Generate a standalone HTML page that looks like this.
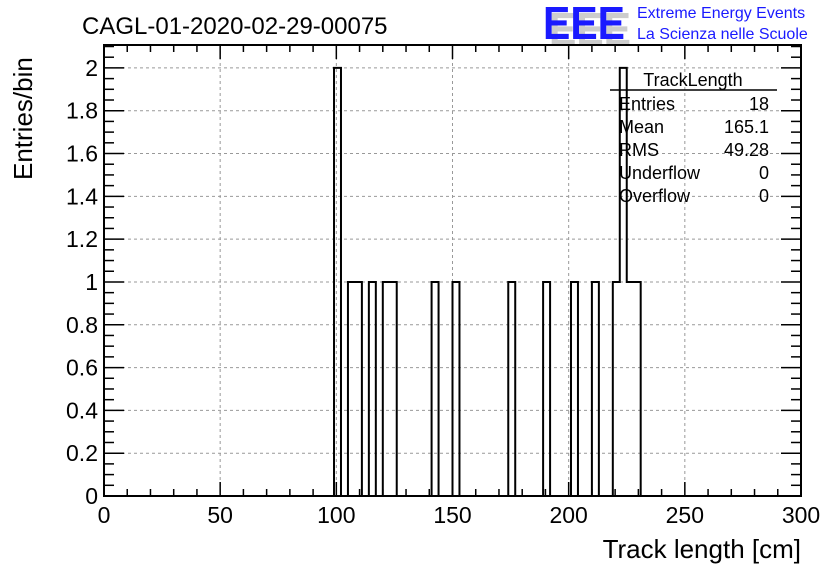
<!DOCTYPE html>
<html><head><meta charset="utf-8"><style>body{margin:0;background:#fff}svg{display:block;font-family:"Liberation Sans",sans-serif}</style></head>
<body>
<svg id="c" width="836" height="572" xmlns="http://www.w3.org/2000/svg">
<rect width="836" height="572" fill="#fff"/>
<text x="82" y="34" font-size="24">CAGL-01-2020-02-29-00075</text>
<g>
<text x="547" y="43" font-size="46" fill="#ccc" font-weight="bold" transform="translate(2,2)" textLength="82" lengthAdjust="spacingAndGlyphs">EEE</text>
<text x="543" y="39" font-size="46" fill="#1a1aff" font-weight="bold" textLength="82" lengthAdjust="spacingAndGlyphs">EEE</text>
<text x="637" y="18" font-size="16" fill="#1a1aff">Extreme Energy Events</text>
<text x="637" y="39" font-size="16" fill="#1a1aff">La Scienza nelle Scuole</text>
</g>
<g id="grid"></g>
<g id="bars"></g>
<g id="axes"></g>
<g font-size="18">
<text x="693" y="86" text-anchor="middle">TrackLength</text>
<line x1="610" y1="90" x2="777" y2="90" stroke="#000" stroke-width="1.5"/>
<text x="619" y="110">Entries</text><text x="769" y="110" text-anchor="end">18</text>
<text x="619" y="133">Mean</text><text x="769" y="133" text-anchor="end">165.1</text>
<text x="619" y="156">RMS</text><text x="769" y="156" text-anchor="end">49.28</text>
<text x="619" y="179">Underflow</text><text x="769" y="179" text-anchor="end">0</text>
<text x="619" y="202">Overflow</text><text x="769" y="202" text-anchor="end">0</text>
</g>
<text x="801" y="558" font-size="26" text-anchor="end">Track length [cm]</text>
<text transform="translate(32,180) rotate(-90)" font-size="26">Entries/bin</text>
</svg>
<script>
const binStarts=[99,105,108,114,120,123,141,150,174,189,201,210,219,222,225,228];
const binCounts=[2,1,1,1,1,1,1,1,1,1,1,1,1,2,1,1];
const binWidth=3;
const xTicks=[0,50,100,150,200,250,300];
const yTicks=[0,0.2,0.4,0.6,0.8,1,1.2,1.4,1.6,1.8,2];
const X0=104,X1=801,Y0=496,Y1=45,xmax=300,ymax=2.107;
const sx=v=>X0+(X1-X0)*v/xmax, sy=v=>Y0-(Y0-Y1)*v/ymax;
const NS="http://www.w3.org/2000/svg";
function mk(p,t,a){const e=document.createElementNS(NS,t);for(const k in a)e.setAttribute(k,a[k]);p.appendChild(e);return e;}
const grid=document.getElementById('grid'),axes=document.getElementById('axes'),bars=document.getElementById('bars');
xTicks.forEach(v=>{if(v>0&&v<xmax){const l=mk(grid,'line',{x1:sx(v),x2:sx(v),y1:Y1,y2:Y0,stroke:'#999','stroke-dasharray':'3,3'});

}});
yTicks.forEach(v=>{if(v>0){const l=mk(grid,'line',{x1:X0,x2:X1,y1:sy(v),y2:sy(v),stroke:'#999','stroke-dasharray':'3,3'});

}});
let d='M'+sx(0)+','+sy(0);
let cur=0,prevEnd=0;
binStarts.forEach((s,i)=>{const c=binCounts[i];
if(Math.abs(s-prevEnd)>1e-9){d+=' L'+sx(prevEnd)+','+sy(cur)+' L'+sx(prevEnd)+','+sy(0);cur=0;}
d+=' L'+sx(s)+','+sy(cur)+' L'+sx(s)+','+sy(c)+' L'+sx(s+binWidth)+','+sy(c);cur=c;prevEnd=s+binWidth;
const r=mk(bars,'rect',{x:sx(s),y:sy(c),width:sx(s+binWidth)-sx(s),height:sy(0)-sy(c),fill:'none',stroke:'none'});

});
d+=' L'+sx(prevEnd)+','+sy(0);
const p=mk(bars,'path',{d:d,fill:'none',stroke:'#000','stroke-width':2});


const f=mk(axes,'rect',{x:X0,y:Y1,width:X1-X0,height:Y0-Y1,fill:'none',stroke:'#000','stroke-width':2});


for(let v=0;v<=xmax;v+=10){const big=v%50===0;
mk(axes,'line',{x1:sx(v),x2:sx(v),y1:Y0,y2:Y0-(big?14:7),stroke:'#000','stroke-width':1.5});
mk(axes,'line',{x1:sx(v),x2:sx(v),y1:Y1,y2:Y1+(big?14:7),stroke:'#000','stroke-width':1.5});}
for(let i=0;i<=42;i++){const v=i*0.05;if(v>ymax)break;const big=i%4===0;
mk(axes,'line',{x1:X0,x2:X0+(big?20:10),y1:sy(v),y2:sy(v),stroke:'#000','stroke-width':1.5});
mk(axes,'line',{x1:X1,x2:X1-(big?20:10),y1:sy(v),y2:sy(v),stroke:'#000','stroke-width':1.5});}
xTicks.forEach(v=>{const t=mk(axes,'text',{x:sx(v),y:523,'font-size':23,'text-anchor':'middle'});t.textContent=v;

});
yTicks.forEach(v=>{const t=mk(axes,'text',{x:98,y:sy(v)+8,'font-size':23,'text-anchor':'end'});t.textContent=String(Math.round(v*10)/10);

});
</script>
</body></html>
